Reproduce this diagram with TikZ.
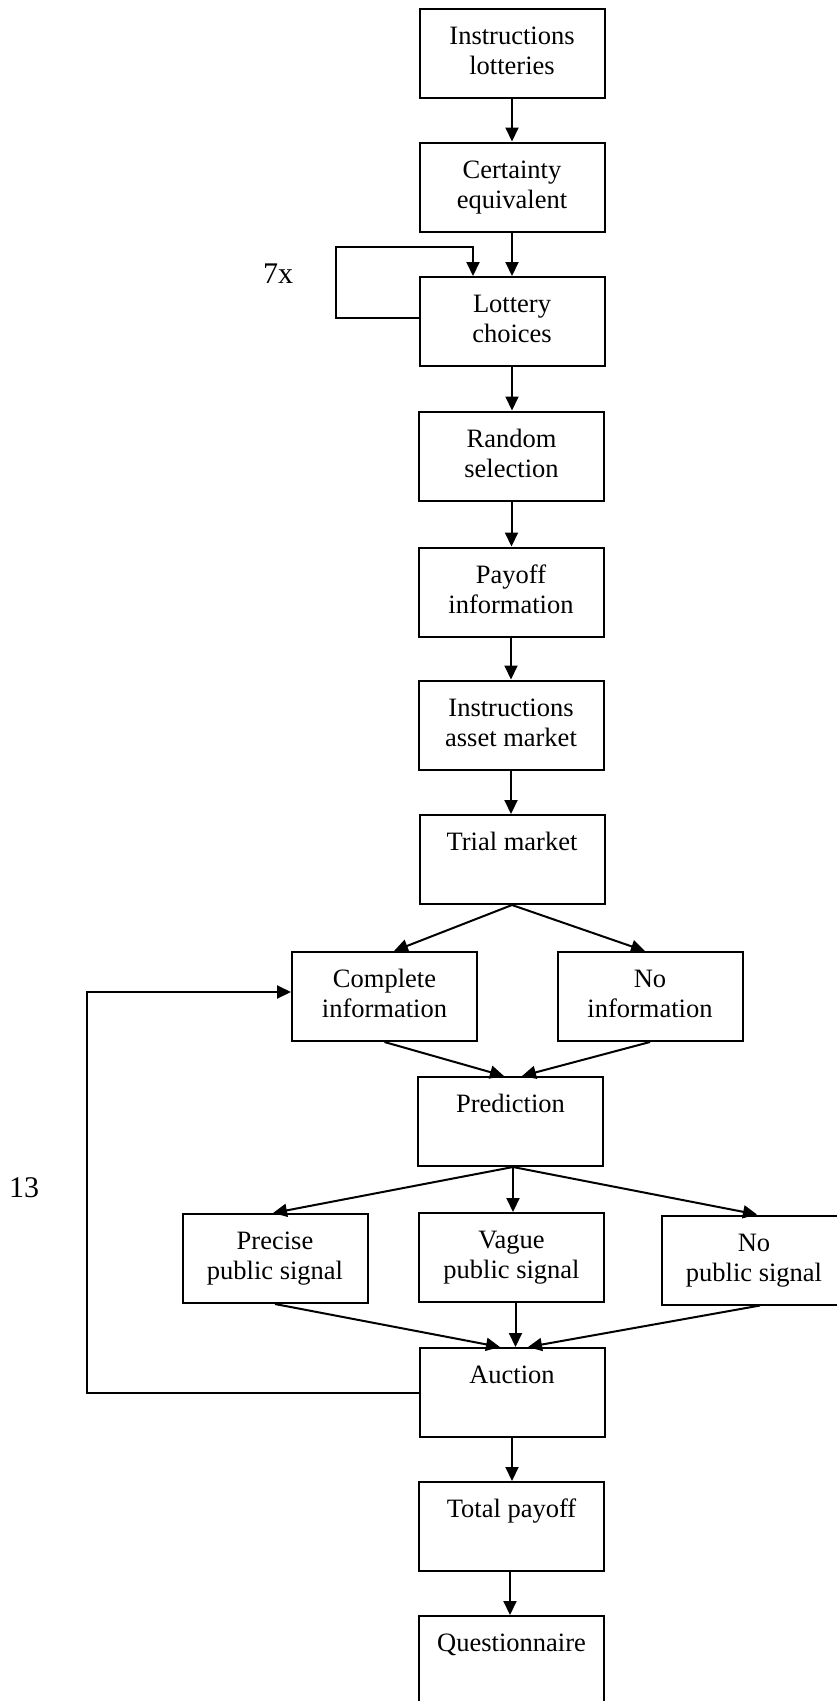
\documentclass[tikz,border=0pt]{standalone}
\usepackage{fontspec}
\setmainfont{Liberation Serif}
\usetikzlibrary{arrows.meta,calc}
\begin{document}
\begin{tikzpicture}[x=1pt,y=-1pt,
  box/.style={draw, line width=2pt, minimum width=185pt, minimum height=89pt,
    inner sep=0pt, align=center, font=\fontsize{26.5}{30}\selectfont},
  arr/.style={line width=2pt, -{Triangle[length=14pt,width=13pt]}},
  lbl/.style={font=\fontsize{30}{36}\selectfont, anchor=base west, inner sep=0pt}]
\useasboundingbox (0,0) rectangle (836,1701);

\node[box] (a) at (512,53.5) {\strut Instructions\\\strut lotteries};
\node[box] (b) at (512,187) {\strut Certainty\\\strut equivalent};
\node[box] (c) at (512,321.5) {\strut Lottery\\\strut choices};
\node[box] (d) at (511.5,456) {\strut Random\\\strut selection};
\node[box] (e) at (511,592) {\strut Payoff\\\strut information};
\node[box] (f) at (511,725) {\strut Instructions\\\strut asset market};
\node[box] (g) at (512,859.5) {\strut Trial market\\\strut};
\node[box] (h) at (384.5,996.5) {\strut Complete\\\strut information};
\node[box] (i) at (650,996.5) {\strut No\\\strut information};
\node[box] (p) at (510.5,1121.5) {\strut Prediction\\\strut};
\node[box] (s1) at (275,1258.5) {\strut Precise\\\strut public signal};
\node[box] (s2) at (511.5,1257.5) {\strut Vague\\\strut public signal};
\node[box] (s3) at (754,1260) {\strut No\\\strut public signal};
\node[box] (au) at (512,1392.5) {\strut Auction\\\strut};
\node[box] (t) at (511.5,1526.5) {\strut Total payoff\\\strut};
\node[box] (q) at (511.5,1660.5) {\strut Questionnaire\\\strut};

\node[lbl] (seven) at (263,283) {7x};
\node[lbl] (thirteen) at (9,1197) {13};

\draw[arr] (a.south) -- (b.north);
\draw[arr] (b.south) -- (c.north);
\coordinate (loopa) at (336,247);
\draw[arr] ($(c.west)+(0,-3.5)$) -| (loopa) -| ($(c.north)+(-39,0)$);
\draw[arr] (c.south) -- (d.north -| c.south);
\draw[arr] (d.south) -- (e.north -| d.south);
\draw[arr] (e.south) -- (f.north -| e.south);
\draw[arr] (f.south) -- (g.north -| f.south);
\draw[arr] (g.south) -- ($(h.north)+(9.5,0)$);
\draw[arr] (g.south) -- ($(i.north)+(-5,0)$);
\draw[arr] (h.south) -- ($(p.north)+(-6.5,0)$);
\draw[arr] (i.south) -- ($(p.north)+(11.5,0)$);
\draw[arr] ($(p.south)+(2.5,0)$) -- ($(s1.north)+(-2,0)$);
\draw[arr] ($(p.south)+(2.5,0)$) -- ($(s2.north)+(1.5,0)$);
\draw[arr] ($(p.south)+(2.5,0)$) -- ($(s3.north)+(3,0)$);
\draw[arr] (s1.south) -- ($(au.north)+(-12,0)$);
\draw[arr] ($(s2.south)+(4,0)$) -- ($(au.north)+(3.5,0)$);
\draw[arr] ($(s3.south)+(6,0)$) -- ($(au.north)+(16,0)$);
\coordinate (loopb) at (87,992);
\draw[arr] (au.west) -| (loopb) -- ($(h.west)+(0,-4.5)$);
\draw[arr] (au.south) -- (t.north -| au.south);
\draw[arr] ($(t.south)+(-1.5,0)$) -- ($(q.north)+(-1.5,0)$);
\end{tikzpicture}
\end{document}
